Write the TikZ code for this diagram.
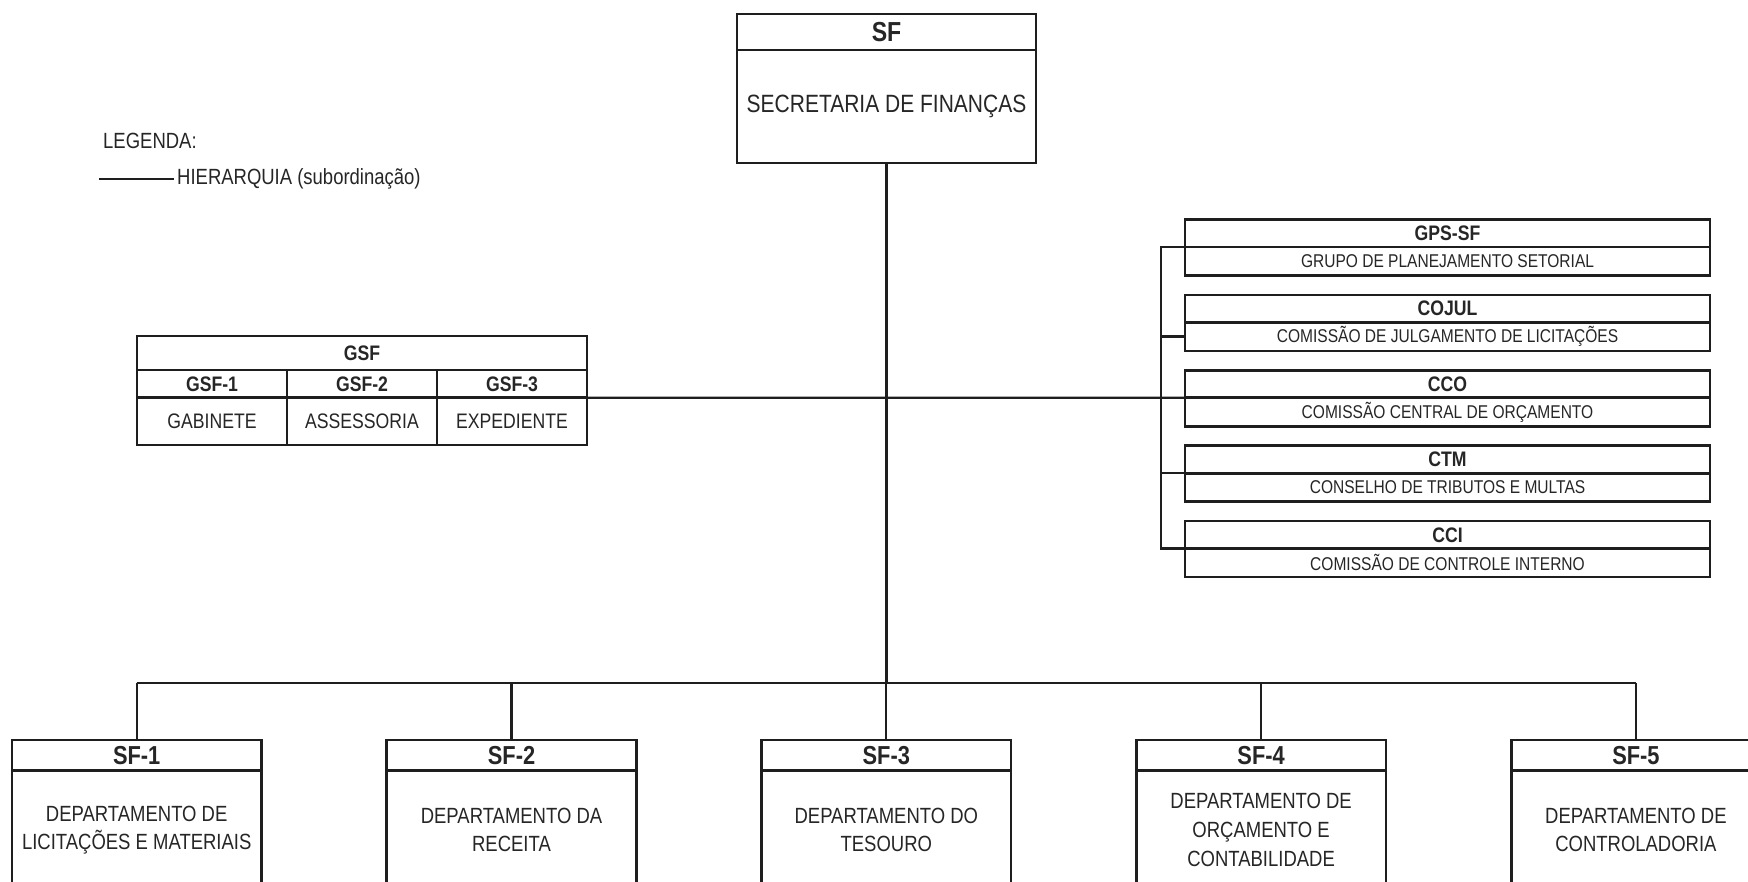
\documentclass[tikz,border=0pt]{standalone}
\usepackage{fontspec}
\setmainfont{Liberation Sans}[FakeStretch=0.84]
\definecolor{ink}{HTML}{1E1E1E}
\definecolor{txt}{HTML}{262626}
\tikzset{
  box/.style={draw=ink, line width=2.7pt, outer sep=0pt, inner sep=1pt,
    anchor=north west, text=txt, align=center},
  conn/.style={draw=ink, line width=2.3pt},
  topH/.style={font=\bfseries\fontsize{27.5}{32}\selectfont},
  topB/.style={font=\fontsize{25}{30}\selectfont},
  gsfH/.style={font=\bfseries\fontsize{21}{25}\selectfont},
  gsfB/.style={font=\fontsize{21}{25}\selectfont},
  sideH/.style={font=\bfseries\fontsize{21}{25}\selectfont},
  sideB/.style={font=\fontsize{18.5}{22}\selectfont},
  deptH/.style={font=\bfseries\fontsize{26}{30}\selectfont},
  deptB/.style={font=\fontsize{22}{28.6}\selectfont, text=txt, align=center, inner sep=0pt},
  legtext/.style={font=\fontsize{22}{26}\selectfont, text=txt, inner sep=0pt, anchor=west}
}
\begin{document}
\begin{tikzpicture}[x=1pt,y=-1pt]
\useasboundingbox (0,0) rectangle (1748,882);
\clip (0,0) rectangle (1748,882);
\fill[white] (0,0) rectangle (1748,882);

% legend
\node[legtext] (leg) at (103,140.7) {LEGENDA:};
\coordinate (legA) at (99,179.3);
\coordinate (legB) at (174,179.3);
\draw[conn] (legA) -- (legB);
\node[legtext] (legtxt) at (177,179.3) {HIERARQUIA (subordinação)};

% secretary
\node[box, topH, minimum width=299pt, minimum height=36pt] (sf-h) at (737,14) {SF};
\node[box, topB, minimum width=299pt, minimum height=113pt] (sf-b) at (737,50) {SECRETARIA DE FINANÇAS};

% cabinet table
\node[box, gsfH, minimum width=450pt, minimum height=34pt] (gsf) at (137,336) {GSF};
\node[box, gsfH, minimum width=150pt, minimum height=27.8pt] (gsf1-h) at (137,370) {GSF-1};
\node[box, gsfH, minimum width=150pt, minimum height=27.8pt] (gsf2-h) at (287,370) {GSF-2};
\node[box, gsfH, minimum width=150pt, minimum height=27.8pt] (gsf3-h) at (437,370) {GSF-3};
\node[box, gsfB, minimum width=150pt, minimum height=47.2pt] (gsf1-b) at (137,397.8) {GABINETE};
\node[box, gsfB, minimum width=150pt, minimum height=47.2pt] (gsf2-b) at (287,397.8) {ASSESSORIA};
\node[box, gsfB, minimum width=150pt, minimum height=47.2pt] (gsf3-b) at (437,397.8) {EXPEDIENTE};

% committees
\foreach \n/\k/\code/\name in {
  0/gps/GPS-SF/GRUPO DE PLANEJAMENTO SETORIAL,
  1/cojul/COJUL/COMISSÃO DE JULGAMENTO DE LICITAÇÕES,
  2/cco/CCO/COMISSÃO CENTRAL DE ORÇAMENTO,
  3/ctm/CTM/CONSELHO DE TRIBUTOS E MULTAS,
  4/cci/CCI/COMISSÃO DE CONTROLE INTERNO}{
  \pgfmathsetmacro{\ty}{219.5+75.4*\n}
  \node[box, sideH, minimum width=525pt, minimum height=27.5pt] (\k-h) at (1185,\ty) {\code};
  \node[box, sideB, minimum width=525pt, minimum height=28.5pt] (\k-b) at (1185,\ty+27.5) {\name};
}

% departments
\foreach \n/\code/\name in {
  1/SF-1/{DEPARTAMENTO DE\\LICITAÇÕES E MATERIAIS},
  2/SF-2/{DEPARTAMENTO DA\\RECEITA},
  3/SF-3/{DEPARTAMENTO DO\\TESOURO},
  4/SF-4/{DEPARTAMENTO DE\\ORÇAMENTO E\\CONTABILIDADE},
  5/SF-5/{DEPARTAMENTO DE\\CONTROLADORIA}}{
  \pgfmathsetmacro{\cx}{136.7+374.8*(\n-1)}
  \node[box, deptH, minimum width=249.5pt, minimum height=30.7pt] (d\n-h) at (\cx-124.75,740) {\code};
  \node[box, minimum width=249.5pt, minimum height=170pt] (d\n-b) at (\cx-124.75,770.7) {};
  \node[deptB] (d\n-t) at (\cx,830) {\name};
}

% hierarchy lines
\coordinate (bus) at (0,683.3);
\coordinate (brk) at (1160.7,0);
\draw[conn] (sf-b.south) -- (sf-b.south |- bus);
\draw[conn] (d1-h.north |- bus) -- (d5-h.north |- bus);
\foreach \n in {1,...,5}{
  \draw[conn] (d\n-h.north |- bus) -- (d\n-h.north);
}
\draw[conn] (gsf3-b.north east) -- (cco-b.north west);
\draw[conn] (gps-b.north west) -- (gps-b.north west -| brk) -- (cci-b.north west -| brk) -- (cci-b.north west);
\draw[conn] (cojul-b.west) -- (cojul-b.west -| brk);
\draw[conn] (ctm-b.north west) -- (ctm-b.north west -| brk);
\end{tikzpicture}
\end{document}
